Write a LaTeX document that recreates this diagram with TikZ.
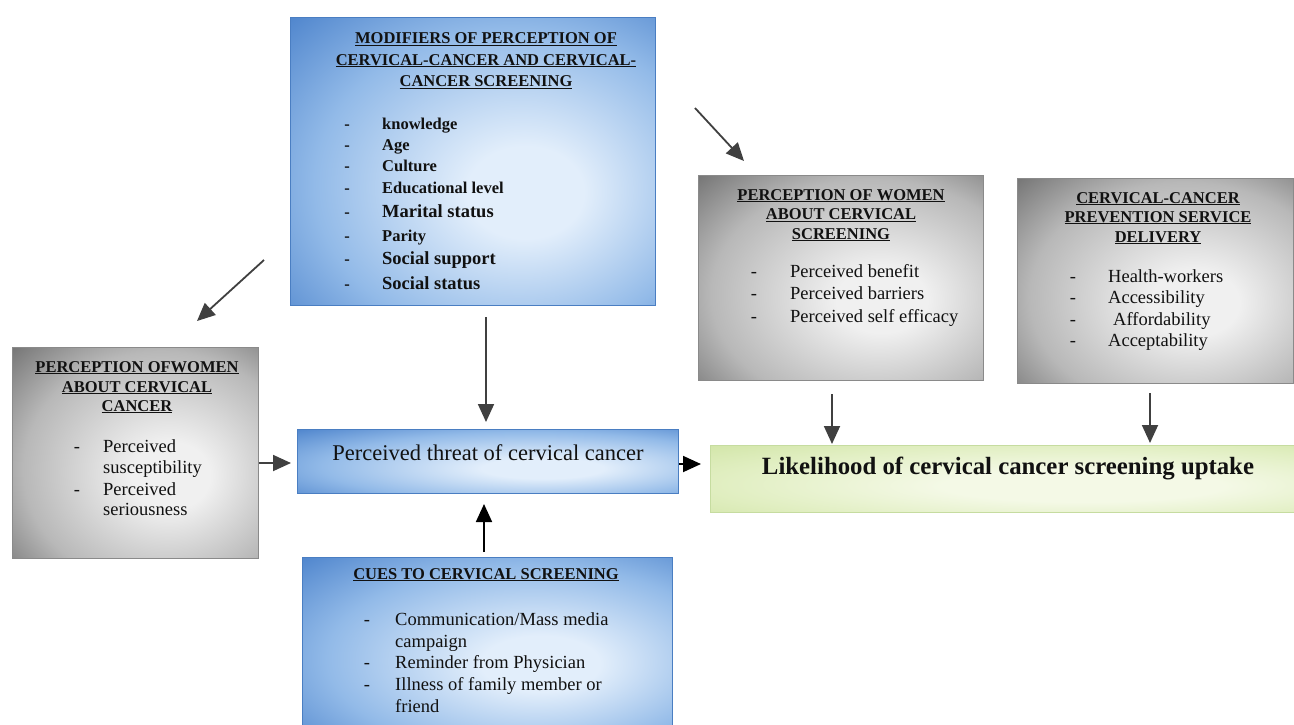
\documentclass[tikz,border=0pt]{standalone}
\usepackage{fontspec}
\setmainfont{Liberation Serif}
\usetikzlibrary{arrows.meta}
\newcommand\myfs[2]{\fontsize{#1}{#2}\selectfont}
\definecolor{binner}{HTML}{E2EEFB}
\definecolor{bmid}{HTML}{92BAE8}
\definecolor{bouter}{HTML}{3470C2}
\definecolor{bborder}{HTML}{4A7EC2}
\definecolor{ginner}{HTML}{F0F0F0}
\definecolor{gmid}{HTML}{B8B8B8}
\definecolor{gouter}{HTML}{4C4C4C}
\definecolor{gborder}{HTML}{8A8A8A}
\definecolor{grinner}{HTML}{F4F9E6}
\definecolor{grmid}{HTML}{E0EEC0}
\definecolor{grouter}{HTML}{C6DE94}
\definecolor{grborder}{HTML}{C6DCA0}
\definecolor{agray}{HTML}{404040}
\definecolor{txt}{HTML}{111111}
\pgfdeclareradialshading{softblue}{\pgfpoint{8bp}{-6bp}}{color(0bp)=(binner); color(8bp)=(binner); color(27bp)=(bmid); color(46bp)=(bouter); color(80bp)=(bouter)}
\pgfdeclareradialshading{softgray}{\pgfpoint{8bp}{-6bp}}{color(0bp)=(ginner); color(8bp)=(ginner); color(28bp)=(gmid); color(48bp)=(gouter); color(80bp)=(gouter)}
\pgfdeclareradialshading{softgreen}{\pgfpoint{8bp}{-6bp}}{color(0bp)=(grinner); color(12bp)=(grinner); color(30bp)=(grmid); color(50bp)=(grouter); color(80bp)=(grouter)}
\begin{document}
\begin{tikzpicture}[x=1pt,y=-1pt,
  box/.style={rectangle, inner sep=0pt, anchor=north west, line width=0.8pt, shade},
  bluebox/.style={box, draw=bborder, shading=softblue},
  graybox/.style={box, draw=gborder, shading=softgray},
  greenbox/.style={box, draw=grborder, shading=softgreen},
  ttl/.style={inner sep=0pt, anchor=base, font=\bfseries\myfs{16.5}{20}, text=txt},
  itm/.style={inner sep=0pt, anchor=base west, font=\myfs{18.5}{22}, text=txt},
  dsh/.style={inner sep=0pt, anchor=base, font=\myfs{18.5}{22}, text=txt},
  arr/.style={draw=agray, line width=1.8pt, -{Triangle[length=18pt,width=16pt]}},
  arrb/.style={arr, draw=black}]
\fill[white] (0,0) rectangle (1294,724);
\useasboundingbox (0,0) rectangle (1294,724);

% boxes
\node[bluebox, minimum width=365pt, minimum height=288pt] (mod) at (290,17) {};
\node[graybox, minimum width=285pt, minimum height=205pt] (scr) at (698,175) {};
\node[graybox, minimum width=276pt, minimum height=205pt] (svc) at (1017,178) {};
\node[graybox, minimum width=246pt, minimum height=211pt] (lft) at (12,347) {};
\node[bluebox, minimum width=381pt, minimum height=64pt] (thr) at (297,429) {};
\node[greenbox, minimum width=586pt, minimum height=67pt] (lik) at (710,445) {};
\node[bluebox, minimum width=370pt, minimum height=175pt] (cue) at (302,557) {};

% modifiers
\foreach \t/\y [count=\i] in {MODIFIERS OF PERCEPTION OF/43.5, CERVICAL-CANCER AND CERVICAL-/65, CANCER SCREENING/86.5}
  \node[ttl] (mt\i) at (486,\y) {\underline{\t}};
\foreach \t/\y/\s [count=\i] in {knowledge/129/16.5, Age/150/16.5, Culture/171/16.5, Educational level/193/16.5, Marital status/217/18.5, Parity/241/16.5, Social support/264/18.5, Social status/289/18.5}{
  \node[itm, font=\bfseries\myfs{\s}{\s}] (mi\i) at (382,\y) {\t};
  \node[dsh, font=\bfseries\myfs{16.5}{18}] (md\i) at (347,\y) {-};
}

% perception of women about cervical screening
\foreach \t/\y [count=\i] in {PERCEPTION OF WOMEN/200, ABOUT CERVICAL/219.5, SCREENING/239}
  \node[ttl] (st\i) at (841,\y) {\underline{\t}};
\foreach \t/\y [count=\i] in {Perceived benefit/277, Perceived barriers/299, Perceived self efficacy/322}{
  \node[itm] (si\i) at (790,\y) {\t};
  \node[dsh] (sd\i) at (754,\y) {-};
}

% service delivery
\foreach \t/\y [count=\i] in {CERVICAL-CANCER/203, PREVENTION SERVICE/222, DELIVERY/242}
  \node[ttl] (vt\i) at (1158,\y) {\underline{\t}};
\foreach \t/\y/\x [count=\i] in {Health-workers/282/1108, Accessibility/303/1108, Affordability/325/1113, Acceptability/346/1108}{
  \node[itm] (vi\i) at (\x,\y) {\t};
  \node[dsh] (vd\i) at (1073,\y) {-};
}

% perception of women about cervical cancer
\foreach \t/\y [count=\i] in {PERCEPTION OFWOMEN/372, ABOUT CERVICAL/392, CANCER/411}
  \node[ttl] (lt\i) at (137,\y) {\underline{\t}};
\foreach \t/\y [count=\i] in {Perceived/452, susceptibility/473, Perceived/495, seriousness/515}
  \node[itm] (li\i) at (103,\y) {\t};
\node[dsh] (ld1) at (77,452) {-};
\node[dsh] (ld2) at (77,495) {-};

% threat and likelihood
\node[inner sep=0pt, anchor=base, font=\myfs{22.5}{26}, text=txt] (thrt) at (488,460) {Perceived threat of cervical cancer};
\node[inner sep=0pt, anchor=base, font=\bfseries\myfs{24.8}{28}, text=txt] (likt) at (1008,474) {Likelihood of cervical cancer screening uptake};

% cues
\node[ttl] (ct1) at (486,579) {\underline{CUES TO CERVICAL SCREENING}};
\node[itm] (ci1) at (395,625) {Communication/Mass media};
\node[itm] (ci2) at (395,647) {campaign};
\node[itm] (ci3) at (395,668) {Reminder from Physician};
\node[itm] (ci4) at (395,690) {Illness of family member or};
\node[itm] (ci5) at (395,712) {friend};
\node[dsh] (cd1) at (367,625) {-};
\node[dsh] (cd3) at (367,668) {-};
\node[dsh] (cd4) at (367,690) {-};

% arrows
\coordinate (a1s) at (264,260); \coordinate (a1e) at (197,321);
\coordinate (a2s) at (695,108); \coordinate (a2e) at (744,161);
\coordinate (a3s) at (486,317); \coordinate (a3e) at (486,422);
\coordinate (a4s) at (484,552); \coordinate (a4e) at (484,504);
\coordinate (a6e) at (701,464);
\coordinate (a7s) at (832,394); \coordinate (a7e) at (832,444);
\coordinate (a8s) at (1150,393); \coordinate (a8e) at (1150,443);
\coordinate (a5e) at (291,463);
\draw[arr] (a1s) -- (a1e);
\draw[arr] (a2s) -- (a2e);
\draw[arr] (a3s) -- (a3e);
\draw[arrb] (a4s) -- (a4e);
\draw[arr] (lft.east |- a5e) -- (a5e);
\draw[arrb] (thr.east |- a6e) -- (a6e);
\draw[arr] (a7s) -- (a7e);
\draw[arr] (a8s) -- (a8e);
\end{tikzpicture}
\end{document}
